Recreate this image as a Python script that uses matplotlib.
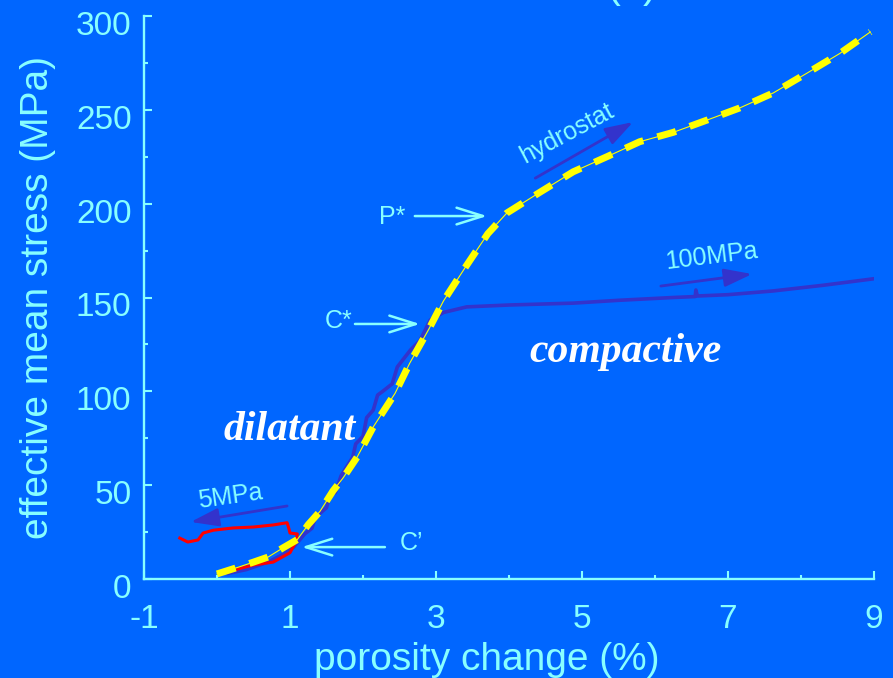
import matplotlib
matplotlib.use('Agg')
import matplotlib.pyplot as plt
import matplotlib.ticker as mticker
import matplotlib.transforms as mtrans

plt.rcParams['font.family'] = ['Liberation Sans', 'DejaVu Sans']
plt.rcParams['axes.unicode_minus'] = False

BG = '#0066FF'
TXT = '#88FFFF'
DARK = '#3333CC'
YEL = '#FFFF00'
RED = '#FF0000'

# hydrostat (yellow dashed)
hydro_x = [0.0, 0.3, 0.5, 0.7, 0.9, 1.1, 1.25, 1.41, 1.59, 1.73, 1.92, 2.14, 2.44, 2.64,
           2.9, 3.1, 3.4, 3.71, 3.97, 4.42, 4.88, 5.34, 5.79, 6.25, 6.71, 7.16, 7.62,
           8.08, 8.53, 8.95]
hydro_y = [2.7, 6.4, 9, 11.7, 16.5, 21, 29, 36, 47, 54, 65, 81, 99, 115,
           133, 148, 166, 184, 195, 206, 217, 225, 233, 238, 244.5, 251, 259,
           269.5, 280, 291.5]

# 100 MPa run (dark blue)
run100_x = [0.15, 0.4, 0.7, 0.9, 1.05, 1.2, 1.3, 1.35, 1.5, 1.55, 1.62, 1.7, 1.78, 1.86,
            1.9, 2.0, 2.05, 2.14, 2.2, 2.27, 2.4, 2.47, 2.55, 2.65, 2.78, 2.92, 3.1,
            3.42, 4.0, 4.88, 5.5, 6.25, 6.55, 6.56, 6.58, 7.0, 7.62, 8.3, 9.0]
run100_y = [3, 5, 9, 13, 17, 24, 27, 33, 38, 45, 46, 55, 60, 65,
            72, 76, 86, 90, 98, 100, 104, 113, 117, 122, 127, 138, 142,
            145, 146, 147, 148.5, 150, 150.5, 154, 150.8, 151.5, 153.5, 156.5, 160]

# 5 MPa run (red)
run5_x = [0.25, 0.5, 0.77, 1.0, 1.08, 1.1, 1.0, 0.98, 0.96, 0.77, 0.5, 0.22, -0.05,
          -0.19, -0.26, -0.4, -0.51]
run5_y = [5, 7.5, 9, 14, 20, 24, 24.5, 27.5, 30, 28.8, 27.7, 27.2, 26,
          24.5, 20.8, 19.7, 21.8]

x_major = [-1, 1, 3, 5, 7, 9]
x_minor = [0, 2, 4, 6, 8]

fig = plt.figure(figsize=(8.93, 6.78), dpi=100, facecolor=BG)
ax = fig.add_axes([144 / 893, 1 - 579 / 678, 730 / 893, 563 / 678])
ax.set_facecolor(BG)

ax.plot(run100_x, run100_y, color=DARK, lw=2.6, zorder=2)
ax.plot(run5_x, run5_y, color=RED, lw=2.2, zorder=3)
ax.plot(hydro_x, hydro_y, color=YEL, lw=0.8, zorder=4)
ax.plot(hydro_x, hydro_y, color=YEL, lw=5, dashes=(2.8, 2.1),
        dash_capstyle='butt', zorder=5)

ax.set_xlim(-1, 9)
ax.set_ylim(0, 300)
ax.xaxis.set_major_locator(mticker.FixedLocator(x_major))
ax.xaxis.set_minor_locator(mticker.FixedLocator(x_minor))
ax.yaxis.set_major_locator(mticker.MultipleLocator(50))
ax.yaxis.set_minor_locator(mticker.MultipleLocator(25))

for s in ['top', 'right']:
    ax.spines[s].set_visible(False)
for s in ['left', 'bottom']:
    ax.spines[s].set_color(TXT)
    ax.spines[s].set_linewidth(1.7)

ax.tick_params(which='both', direction='in', color=TXT, labelcolor=TXT, width=1.5)
ax.tick_params(which='major', length=6, labelsize=24)
ax.tick_params(which='minor', length=3)
ax.tick_params(axis='y', pad=9)
ax.tick_params(axis='x', pad=18)

ax.set_xlabel('porosity change (%)', fontsize=28, color=TXT)
ax.set_ylabel('effective mean stress (MPa)', fontsize=28, color=TXT)
ax.xaxis.set_label_coords(0.47, -0.112)
ax.yaxis.set_label_coords(-0.12, 0.50)

# y tick labels sit a little below their ticks
shift = mtrans.ScaledTranslation(0, -5 / 72, fig.dpi_scale_trans)
for lab in ax.yaxis.get_majorticklabels():
    lab.set_transform(lab.get_transform() + shift)

# open arrows for P*, C*, C'
open_arrow = dict(arrowstyle='->,head_length=19,head_width=6', color=TXT, lw=1.8,
                  mutation_scale=1, shrinkA=0, shrinkB=0)
ax.annotate('', xy=(3.70, 193.4), xytext=(2.71, 193.4), arrowprops=open_arrow)
ax.text(2.40, 193, 'P*', color=TXT, fontsize=18, ha='center', va='center')
ax.annotate('', xy=(2.78, 135.9), xytext=(1.89, 135.9), arrowprops=open_arrow)
ax.text(1.66, 137.5, 'C*', color=TXT, fontsize=18, ha='center', va='center')
ax.annotate('', xy=(1.16, 17.0), xytext=(2.30, 17.0), arrowprops=open_arrow)
ax.text(2.66, 19.2, 'C\u2019', color=TXT, fontsize=18, ha='center', va='center')

# loading direction arrows
fill_arrow = dict(arrowstyle='-|>,head_length=17,head_width=5.5', color=DARK, lw=2,
                  mutation_scale=1, shrinkA=0, shrinkB=0)
ax.annotate('', xy=(5.70, 243.5), xytext=(4.36, 213.6), arrowprops=fill_arrow)
ax.text(4.79, 237.6, 'hydrostat', color=TXT, fontsize=18, rotation=28,
        ha='center', va='center', rotation_mode='anchor')
ax.annotate('', xy=(7.33, 162.5), xytext=(6.08, 156.1), arrowprops=fill_arrow)
ax.text(6.77, 172, '100MPa', color=TXT, fontsize=18, rotation=7,
        ha='center', va='center', rotation_mode='anchor')
ax.annotate('', xy=(-0.36, 30.4), xytext=(0.96, 38.9), arrowprops=fill_arrow)
ax.text(0.18, 43.7, '5MPa', color=TXT, fontsize=18, rotation=8,
        ha='center', va='center', rotation_mode='anchor')

ax.text(1.0, 74, 'dilatant', color='white', fontsize=30, family='Liberation Serif',
        style='italic', weight='bold', ha='center', va='baseline')
ax.text(5.59, 115.6, 'compactive', color='white', fontsize=30, family='Liberation Serif',
        style='italic', weight='bold', ha='center', va='baseline')

# panel title, mostly above the top edge as in the original slide
fig.text(632 / 893, 1 + 3 / 678, '(b)', color=TXT, fontsize=30, ha='center', va='baseline')

fig.savefig('out.png', dpi=100, facecolor=BG)
